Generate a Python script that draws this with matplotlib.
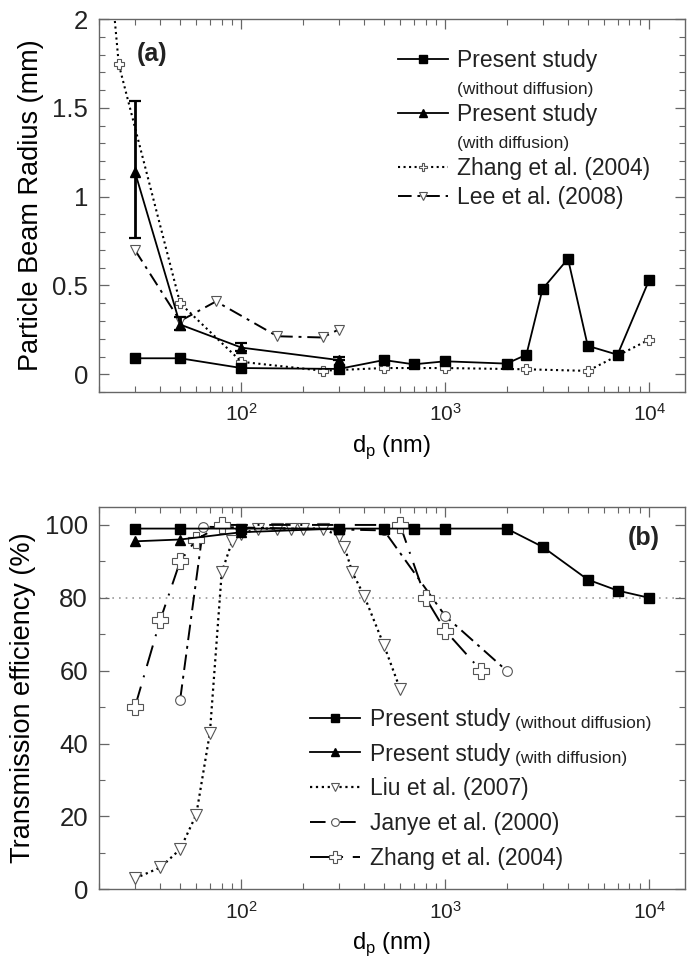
import matplotlib
matplotlib.use('Agg')
import matplotlib.pyplot as plt
from matplotlib.lines import Line2D
from matplotlib.ticker import MultipleLocator, FuncFormatter
import numpy as np

plt.rcParams['font.family'] = ['Liberation Sans', 'DejaVu Sans']
plt.rcParams['mathtext.fontset'] = 'custom'
plt.rcParams['mathtext.rm'] = 'Liberation Sans'
plt.rcParams['text.color'] = '#222222'

# ---- panel (a): particle beam radius (mm) ----
a_nodiff_x = [30, 50, 100, 300, 500, 700, 1000, 2000, 2500, 3000, 4000, 5000, 7000, 10000]
a_nodiff_y = [0.09, 0.09, 0.035, 0.03, 0.08, 0.056, 0.073, 0.06, 0.11, 0.48, 0.65, 0.16, 0.11, 0.53]

a_diff_x = [30, 50, 100, 300]
a_diff_y = [1.14, 0.28, 0.15, 0.08]
a_diff_lo = [0.37, 0.03, 0.02, 0.0]
a_diff_hi = [0.40, 0.04, 0.025, 0.017]

a_zhang_x = [22, 25, 50, 100, 250, 500, 1000, 2500, 5000, 10000]
a_zhang_y = [2.45, 1.745, 0.40, 0.07, 0.02, 0.035, 0.035, 0.028, 0.019, 0.195]

a_lee_x = [30, 50, 75, 150, 250, 300]
a_lee_y = [0.70, 0.30, 0.41, 0.214, 0.207, 0.252]

# ---- panel (b): transmission efficiency (%) ----
b_nodiff_x = [30, 50, 100, 300, 500, 700, 1000, 2000, 3000, 5000, 7000, 10000]
b_nodiff_y = [99, 99, 99, 99, 99, 99, 99, 99, 94, 85, 82, 80]

b_diff_x = [30, 50, 100, 300]
b_diff_y = [95.5, 96, 98, 99]

b_liu_x = [30, 40, 50, 60, 70, 80, 90, 100, 120, 150, 175, 200, 250, 300, 320, 350, 400, 500, 600]
b_liu_y = [3, 6, 11, 20.5, 43, 87, 95.5, 97.5, 99, 99, 99, 99, 99, 97, 94, 87, 80.5, 67, 55]

b_janye_x = [50, 65, 500, 1000, 2000]
b_janye_y = [52, 99.5, 98.5, 75, 60]

b_zhang_x = [30, 40, 50, 60, 80, 600, 800, 1000, 1500]
b_zhang_y = [50, 74, 90, 96, 100, 100, 80, 71, 60]

ref_line = 80

fig = plt.figure(figsize=(6.91, 9.67), dpi=100)
ax1 = fig.add_axes([0.1433, 0.5946, 0.848, 0.3857])
ax2 = fig.add_axes([0.1433, 0.0803, 0.848, 0.3957])

edge = '#555555'
lab = 16.5
ylab = 19.5


def style(ax):
    ax.set_xscale('log')
    ax.set_xlim(20, 15000)
    for s in ax.spines.values():
        s.set_color('#666666')
        s.set_linewidth(1.0)
    ax.tick_params(which='both', direction='in', top=True, right=True,
                   colors='#666666', labelcolor='#222222')
    ax.tick_params(axis='y', labelsize=18.5)
    ax.tick_params(axis='x', labelsize=15)
    ax.tick_params(which='major', length=7, width=0.9, pad=8)
    ax.tick_params(which='minor', length=4, width=0.8)
    ax.set_xlabel('d$_\\mathregular{p}$ (nm)', fontsize=17, labelpad=6)


# panel (a)
style(ax1)
ax1.set_ylim(-0.1, 2.0)
ax1.yaxis.set_major_locator(MultipleLocator(0.5))
ax1.yaxis.set_minor_locator(MultipleLocator(0.1))
ax1.yaxis.set_major_formatter(FuncFormatter(lambda v, p: '%g' % v))
ax1.set_ylabel('Particle Beam Radius (mm)', fontsize=ylab, labelpad=6)

l1, = ax1.plot(a_nodiff_x, a_nodiff_y, '-', color='k', lw=1.3, marker='s', ms=7.5, zorder=5)
ax1.errorbar(a_diff_x, a_diff_y, yerr=[a_diff_lo, a_diff_hi], fmt='none', ecolor='k',
             elinewidth=2, capsize=4, capthick=1.6, zorder=4)
l2, = ax1.plot(a_diff_x, a_diff_y, '-', color='k', lw=1.3, marker='^', ms=7.5, zorder=5)
l3, = ax1.plot(a_zhang_x, a_zhang_y, ':', color='k', lw=1.5, marker='P', ms=7,
               mfc='white', mec=edge, mew=0.8, zorder=3)
l4, = ax1.plot(a_lee_x, a_lee_y, color='k', lw=1.4, ls=(0, (7, 3, 1.5, 3)), marker='v', ms=7.5,
               mfc='white', mec=edge, mew=0.8, zorder=3)

blank = Line2D([], [], ls='none', marker='none')
leg1 = ax1.legend([l1, blank, l2, blank, l3, l4],
                  ['Present study', '(without diffusion)', 'Present study', '(with diffusion)',
                   'Zhang et al. (2004)', 'Lee et al. (2008)'],
                  loc='upper left', bbox_to_anchor=(0.51, 0.92), frameon=False,
                  fontsize=lab, handlelength=2.2, handletextpad=0.4, labelspacing=0.26,
                  borderpad=0, borderaxespad=0, numpoints=1, markerscale=0.75)
for i in (1, 3):
    leg1.get_texts()[i].set_fontsize(12.5)
ax1.text(0.09, 0.905, '(a)', transform=ax1.transAxes, fontsize=18, fontweight='bold',
         ha='center', va='center')

# panel (b)
style(ax2)
ax2.set_ylim(0, 105)
ax2.yaxis.set_major_locator(MultipleLocator(20))
ax2.yaxis.set_minor_locator(MultipleLocator(10))
ax2.yaxis.set_major_formatter(FuncFormatter(lambda v, p: '%g' % v))
ax2.set_ylabel('Transmission efficiency (%)', fontsize=ylab, labelpad=6)
ax2.axhline(ref_line, color='#999999', lw=1.2, ls=(0, (1, 3)), zorder=1)

m1, = ax2.plot(b_nodiff_x, b_nodiff_y, '-', color='k', lw=1.3, marker='s', ms=7.5, zorder=5)
m2, = ax2.plot(b_diff_x, b_diff_y, '-', color='k', lw=1.3, marker='^', ms=7, zorder=5)
m3, = ax2.plot(b_liu_x, b_liu_y, ':', color='k', lw=1.6, marker='v', ms=8,
               mfc='white', mec=edge, mew=0.8, zorder=3)
m4, = ax2.plot(b_janye_x, b_janye_y, color='k', lw=1.4, ls=(0, (8, 3, 1.5, 3)), marker='o', ms=7,
               mfc='white', mec=edge, mew=0.8, zorder=3)
m5, = ax2.plot(b_zhang_x, b_zhang_y, color='k', lw=1.4, ls=(0, (11, 5, 1, 5)), marker='P', ms=11,
               mfc='white', mec=edge, mew=0.8, zorder=3)

leg2 = ax2.legend([m1, m2, m3, m4, m5],
                  ['Present study', 'Present study', 'Liu et al. (2007)',
                   'Janye et al. (2000)', 'Zhang et al. (2004)'],
                  loc='upper left', bbox_to_anchor=(0.36, 0.475), frameon=False,
                  fontsize=lab, handlelength=2.2, handletextpad=0.4, labelspacing=0.52,
                  borderpad=0, borderaxespad=0, numpoints=1, markerscale=0.8)
for txt, extra in zip(leg2.get_texts()[:2], ['(without diffusion)', '(with diffusion)']):
    ax2.annotate(extra, xy=(1, 0), xycoords=txt, xytext=(4, 0), textcoords='offset points',
                 fontsize=12.5, va='bottom', ha='left', zorder=10)
ax2.text(0.93, 0.918, '(b)', transform=ax2.transAxes, fontsize=18, fontweight='bold',
         ha='center', va='center')

fig.savefig('out.png', dpi=100)
